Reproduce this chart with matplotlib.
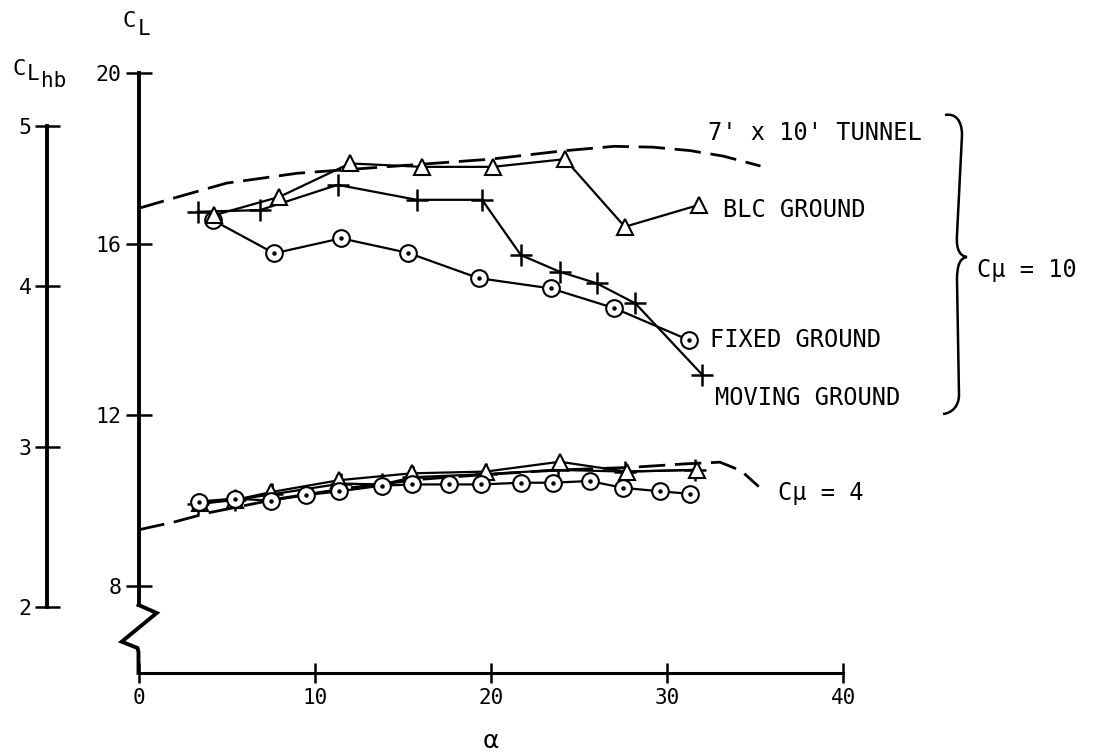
import matplotlib
matplotlib.use("Agg")
import matplotlib.pyplot as plt
from matplotlib.path import Path
from matplotlib.patches import PathPatch
from matplotlib.lines import Line2D
from matplotlib.transforms import Affine2D

plt.rcParams['font.family'] = ['DejaVu Sans Mono', 'DejaVu Sans']
plt.rcParams['lines.scale_dashes'] = False

# ---------------- data (alpha in deg, C_L) ----------------
# C_mu = 10
tunnel10_alpha = [0, 2, 5, 9, 12, 16, 20, 24, 27, 29.2, 31.3, 33.2, 35.3]
tunnel10_cl = [16.83, 17.07, 17.42, 17.65, 17.74, 17.86, 17.98, 18.17, 18.28, 18.26, 18.18, 18.05, 17.82]

blc10_alpha = [4.3, 8.0, 12.0, 16.1, 20.1, 24.2, 27.6, 31.8]
blc10_cl = [16.67, 17.10, 17.88, 17.80, 17.80, 17.98, 16.40, 16.91]

moving10_alpha = [3.35, 6.9, 11.3, 15.8, 19.5, 21.7, 23.9, 26.0, 28.2, 32.0]
moving10_cl = [16.75, 16.79, 17.38, 17.03, 17.03, 15.74, 15.35, 15.08, 14.61, 12.94]

fixed10_alpha = [4.2, 7.7, 11.5, 15.3, 19.3, 23.4, 27.0, 31.25]
fixed10_cl = [16.56, 15.78, 16.13, 15.79, 15.20, 14.96, 14.50, 13.75]

# C_mu = 4
tunnel4_alpha = [0, 2, 4, 8, 12, 16, 20, 24, 28, 31, 33, 34.2, 35.2]
tunnel4_cl = [9.32, 9.50, 9.72, 10.05, 10.30, 10.50, 10.62, 10.72, 10.78, 10.86, 10.90, 10.70, 10.33]

blc4_alpha = [3.5, 5.5, 7.5, 11.4, 15.5, 19.7, 23.9, 27.7, 31.7]
blc4_cl = [9.95, 10.02, 10.20, 10.48, 10.64, 10.68, 10.91, 10.68, 10.72]

moving4_alpha = [3.4, 5.5, 7.6, 11.5, 13.8, 15.6, 19.7, 23.8, 27.6, 31.6]
moving4_cl = [9.92, 10.02, 10.15, 10.40, 10.38, 10.55, 10.62, 10.72, 10.68, 10.72]

fixed4_alpha = [3.45, 5.45, 7.5, 9.5, 11.4, 13.8, 15.5, 17.6, 19.45, 21.7, 23.5, 25.6, 27.5, 29.6, 31.3]
fixed4_cl = [9.98, 10.05, 10.00, 10.13, 10.22, 10.35, 10.38, 10.38, 10.38, 10.42, 10.42, 10.46, 10.30, 10.22, 10.16]

x_ticks = [0, 10, 20, 30, 40]
cl_ticks = [8, 12, 16, 20]
clhb_ticks = [2, 3, 4, 5]

# ---------------- layout (pixels) ----------------
W, H = 1093, 756
fig = plt.figure(figsize=(W / 100, H / 100), dpi=100)
pix = Affine2D().scale(1, -1).translate(0, H)  # pixel coords, y downward

x0_px, x40_px = 138.5, 843.3
xaxis_px = 673.0
cl20_px = 72.7
px_per_cl = 42.8
cl_bottom = 20 - (xaxis_px - cl20_px) / px_per_cl

ax = fig.add_axes([x0_px / W, 1 - xaxis_px / H, (x40_px - x0_px) / W, (xaxis_px - cl20_px) / H])
ax.set_xlim(0, 40)
ax.set_ylim(cl_bottom, 20)
ax.patch.set_visible(False)
for s in ('top', 'right'):
    ax.spines[s].set_visible(False)
ax.spines['left'].set_linewidth(2.8)
ax.spines['left'].set_bounds(7.56, 20)
ax.spines['bottom'].set_linewidth(2.2)
ax.spines['bottom'].set_bounds(0, 40)
ax.set_xticks(x_ticks)
ax.set_yticks(cl_ticks)
ax.tick_params(axis='x', direction='inout', length=14, width=1.8, labelsize=15, pad=4)
ax.tick_params(axis='y', direction='inout', length=19, width=1.8, labelsize=15.5, pad=3)
ax.set_xlabel('α', fontsize=18, labelpad=15, family='DejaVu Sans')

# axis break zigzag
zig_x = [x0_px, 156.7, 121.7, 137.5, x0_px, x0_px]
zig_y = [605, 613, 641.7, 648, 652, xaxis_px]
fig.add_artist(Line2D(zig_x, zig_y, transform=pix, color='k', lw=2.8,
                      solid_joinstyle='miter'))

# C_Lhb secondary scale
hb2_px, hb5_px = 607.3, 125.7
px_per_hb = (hb2_px - hb5_px) / 3
hb_bottom = 2 - (xaxis_px - hb2_px) / px_per_hb
hb_top = 5 + (hb5_px - cl20_px) / px_per_hb
ax2 = fig.add_axes([46.7 / W, 1 - xaxis_px / H, 0.01, (xaxis_px - cl20_px) / H])
ax2.set_ylim(hb_bottom, hb_top)
ax2.patch.set_visible(False)
for s in ('top', 'right', 'bottom'):
    ax2.spines[s].set_visible(False)
ax2.spines['left'].set_linewidth(2.8)
ax2.spines['left'].set_bounds(2, 5)
ax2.set_xticks([])
ax2.set_yticks(clhb_ticks)
ax2.tick_params(axis='y', direction='inout', length=18, width=1.8, labelsize=15.5, pad=2)

# ---------------- curves ----------------
lw = 1.6
dash = (0, (19, 7))
ax.plot(tunnel10_alpha, tunnel10_cl, color='k', lw=2.0, ls=dash, clip_on=False, zorder=2)
ax.plot(tunnel4_alpha, tunnel4_cl, color='k', lw=2.0, ls=dash, clip_on=False, zorder=2)

tri = dict(marker='^', ms=11, mfc='white', mec='k', mew=1.5, color='k', lw=lw, clip_on=False)
plus = dict(marker='+', ms=16, mew=1.8, color='k', lw=lw, clip_on=False)
circ = dict(marker='o', ms=12, mfc='white', mec='k', mew=1.5, color='k', lw=lw, clip_on=False)
dot = dict(ls='none', marker='o', ms=2.2, color='k', clip_on=False)

ax.plot(moving4_alpha, moving4_cl, zorder=3, **plus)
ax.plot(blc4_alpha, blc4_cl, zorder=4, **tri)
ax.plot(fixed4_alpha, fixed4_cl, zorder=5, **circ)
ax.plot(fixed4_alpha, fixed4_cl, zorder=6, **dot)

ax.plot(fixed10_alpha, fixed10_cl, zorder=3, **circ)
ax.plot(fixed10_alpha, fixed10_cl, zorder=3.5, **dot)
ax.plot(moving10_alpha, moving10_cl, zorder=4, **plus)
ax.plot(blc10_alpha, blc10_cl, zorder=5, **tri)

# ---------------- labels ----------------
fs = 17
def ptext(x, y, s, size=fs, **kw):
    fig.text(x, y, s, transform=pix, fontsize=size, va='baseline', ha='left', **kw)

ptext(708.3, 140, "7' x 10' TUNNEL")
ptext(723.3, 216.7, "BLC GROUND")
ptext(710, 346.7, "FIXED GROUND")
ptext(715, 405, "MOVING GROUND")
ptext(778.3, 500, "Cμ = 4")
ptext(976.7, 276.7, "Cμ = 10")

# axis titles
ptext(122, 27, "C", size=16)
ptext(138, 35, "L", size=15)
ptext(12, 75, "C", size=16)
ptext(27, 80, "L", size=15)
ptext(41, 87, "hb", size=15)

# brace
verts = [(945, 115), (955, 113), (962, 120), (962, 135),
         (957, 235),
         (956, 250), (960, 256), (967, 257),
         (960, 258), (957, 265), (957, 280),
         (959, 395),
         (959, 405), (953, 413), (943, 414)]
codes = [Path.MOVETO, Path.CURVE4, Path.CURVE4, Path.CURVE4,
         Path.LINETO,
         Path.CURVE4, Path.CURVE4, Path.CURVE4,
         Path.CURVE4, Path.CURVE4, Path.CURVE4,
         Path.LINETO,
         Path.CURVE4, Path.CURVE4, Path.CURVE4]
fig.add_artist(PathPatch(Path(verts, codes), transform=pix, fill=False, lw=1.8, ec='k'))

fig.savefig('out.png', dpi=100, facecolor='white')
